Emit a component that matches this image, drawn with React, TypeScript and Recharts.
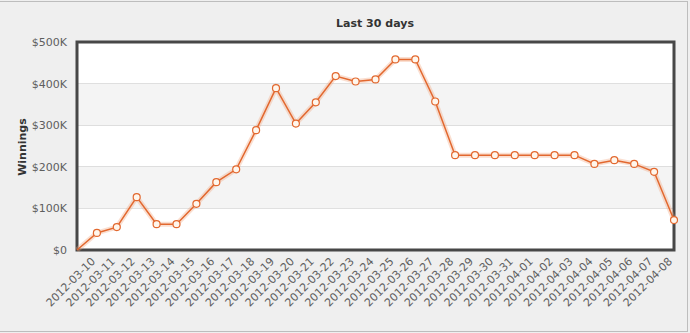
import { LineChart, Line, XAxis, YAxis, CartesianGrid, ReferenceArea } from 'recharts';

// Category labels (first point has no label on the axis)
const dates = [
  '',
  '2012-03-10', '2012-03-11', '2012-03-12', '2012-03-13', '2012-03-14', '2012-03-15',
  '2012-03-16', '2012-03-17', '2012-03-18', '2012-03-19', '2012-03-20', '2012-03-21',
  '2012-03-22', '2012-03-23', '2012-03-24', '2012-03-25', '2012-03-26', '2012-03-27',
  '2012-03-28', '2012-03-29', '2012-03-30', '2012-03-31', '2012-04-01', '2012-04-02',
  '2012-04-03', '2012-04-04', '2012-04-05', '2012-04-06', '2012-04-07', '2012-04-08',
];

// Winnings
const winnings = [
  0,
  41000, 55000, 127000, 62000, 62000, 111000,
  163000, 194000, 288000, 389000, 304000, 355000,
  418000, 405000, 410000, 458000, 458000, 357000,
  228000, 228000, 228000, 228000, 228000, 228000,
  228000, 207000, 216000, 207000, 188000, 72000,
];

const yTicks = [0, 100000, 200000, 300000, 400000, 500000];
const shadedBands = [[100000, 200000], [300000, 400000]];

const FONT = '"DejaVu Sans", Verdana, sans-serif';

const chartData = dates.map((d, i) => ({ date: d, winnings: winnings[i] }));

const formatMoney = (v: number) => (v === 0 ? '$0' : `$${v / 1000}K`);

function DateTick(props: any) {
  const { x, y, payload } = props;
  if (!payload.value) return null;
  const tx = x - 1;
  return (
    <text
      x={tx}
      y={y}
      transform={`rotate(-45, ${tx}, ${y})`}
      textAnchor="end"
      fontSize={11}
      fontFamily={FONT}
      fill="#5e5e5e"
    >
      {payload.value}
    </text>
  );
}

// the unlabeled starting point sits in the corner without a marker
function PointDot(props: any) {
  const { cx, cy, index } = props;
  if (index === 0) return null;
  return <circle key={index} cx={cx} cy={cy} r={3.5} fill="#fff6ec" stroke="#e2682f" strokeWidth={1.2} />;
}

export default function App() {
  return (
    <div
      style={{
        position: 'absolute',
        left: 0,
        top: 0,
        width: 690,
        height: 333,
        background: '#efefef',
        overflow: 'hidden',
        fontFamily: FONT,
      }}
    >
      <div
        style={{
          position: 'absolute',
          left: -2,
          top: 1,
          width: 688,
          height: 329,
          border: '1px solid #bdbdbd',
        }}
      />
      <div
        style={{
          position: 'absolute',
          left: 0,
          top: 17,
          width: 750,
          textAlign: 'center',
          fontSize: 11,
          fontWeight: 'bold',
          color: '#333',
        }}
      >
        Last 30 days
      </div>
      <div
        style={{
          position: 'absolute',
          left: 22,
          top: 147,
          transform: 'translate(-50%, -50%) rotate(-90deg)',
          fontSize: 11,
          fontWeight: 'bold',
          color: '#333',
          whiteSpace: 'nowrap',
        }}
      >
        Winnings
      </div>
      <div style={{ position: 'absolute', left: 0, top: 0 }}>
        <LineChart
          width={690}
          height={333}
          data={chartData}
          margin={{ top: 42, right: 16, left: 17, bottom: 8 }}
        >
          <CartesianGrid vertical={false} stroke="#c6c6c6" fill="#fff" />
          {shadedBands.map(([a, b]) => (
            <ReferenceArea key={a} y1={a} y2={b} fill="#f4f4f4" fillOpacity={1} stroke="none" />
          ))}
          <ReferenceArea y1={0} y2={500000} fill="none" stroke="#474747" strokeWidth={3} />
          <XAxis
            dataKey="date"
            interval={0}
            height={75}
            tickLine={false}
            axisLine={false}
            tick={<DateTick />}
            tickSize={0}
            tickMargin={12}
          />
          <YAxis
            width={60}
            domain={[0, 500000]}
            ticks={yTicks}
            tickFormatter={formatMoney}
            tickLine={false}
            axisLine={false}
            tickMargin={4}
            tick={{ fontSize: 11, fill: '#5e5e5e', fontFamily: FONT }}
          />
          <Line
            dataKey="winnings"
            stroke="#f0a27a"
            strokeOpacity={0.35}
            strokeWidth={5}
            dot={false}
            activeDot={false}
            legendType="none"
            isAnimationActive={false}
          />
          <Line
            dataKey="winnings"
            stroke="#e2682f"
            strokeWidth={1.5}
            dot={<PointDot />}
            activeDot={false}
            isAnimationActive={false}
          />
        </LineChart>
      </div>
    </div>
  );
}
